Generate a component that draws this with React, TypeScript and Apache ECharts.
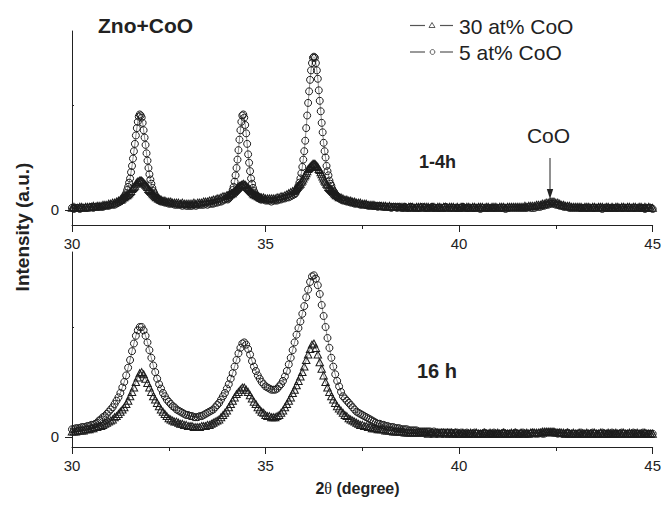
import React, { useEffect, useRef } from "react";
import * as echarts from "echarts";

const FONT = '"Liberation Sans", Arial, Helvetica, sans-serif';
const INK = "#222";

type Segment = [number, number, number[]];

// X-ray diffraction scans, 2θ in degrees. Each segment: [first angle, step, intensities].
// Upper panel: 1-4 h milling.
const top30AtPct: Segment[] = [
  [30.0, 0.05, [2, 3, 2, 2, 3, 3, 2, 3, 3, 3, 3, 4, 3, 4, 4, 4, 5, 5, 5, 6, 6, 7, 7, 8, 9, 10]],
  [31.275, 0.025, [10, 11, 12, 12, 13, 14, 14, 15, 16, 17, 18, 20, 21, 22, 23, 25, 26, 27, 27, 28, 28, 28, 27, 26, 25, 24, 23, 22, 20, 19, 18, 17, 16, 15, 14, 13, 12, 12, 11, 11, 10, 10]],
  [32.35, 0.05, [9, 9, 8, 8, 8, 7, 7, 7, 7, 6, 7, 6, 6, 6, 6, 6, 7, 6, 7, 7, 7, 8, 8, 8, 9, 9, 10, 10, 11, 11, 12, 13, 13, 14]],
  [34.025, 0.025, [14, 14, 15, 15, 16, 16, 17, 18, 19, 20, 21, 22, 23, 23, 24, 24, 25, 24, 24, 23, 22, 21, 20, 19, 18, 17, 16, 15, 15, 14, 14, 13, 13, 12, 12, 12]],
  [34.95, 0.05, [12, 11, 11, 11, 11, 11, 11, 12, 12, 13, 13, 14, 15, 16, 17, 18, 19]],
  [35.775, 0.025, [20, 21, 22, 23, 24, 25, 27, 28, 30, 32, 33, 35, 37, 39, 40, 41, 42, 43, 44, 44, 44, 43, 42, 41, 39, 38, 36, 34, 32, 30, 28, 27, 25, 24, 22, 21, 20, 19, 18, 17, 16, 15, 14, 14, 13, 12]],
  [36.95, 0.05, [
    12, 11, 10, 10, 9, 9, 8, 8, 7, 7,
    7, 6, 6, 6, 5, 5, 5, 5, 4, 4,
    4, 4, 4, 4, 3, 4, 3, 3, 3, 3,
    3, 3, 3, 3, 2, 3, 3, 3, 2, 3,
    3, 3, 2, 3, 3, 3, 2, 3, 3, 2,
    3, 3, 2, 3, 3, 2, 3, 3, 3, 2,
    3, 2, 3, 3, 2, 3, 3, 2, 3, 3,
    2, 3, 3, 3, 2, 3, 3, 2, 3, 3,
    3, 2, 3, 3, 3, 2, 3, 3, 3, 3,
    3, 3, 3, 3, 3, 4, 3, 4, 4, 4,
    4, 5, 5, 5, 6, 6, 7, 7, 8, 8,
    8, 7, 7, 6, 5, 5, 4, 4, 4, 3,
    3, 3, 3, 3, 3, 2, 3, 3, 3, 2,
    3, 3, 2, 3, 3, 3, 2, 3, 3, 2,
    3, 2, 3, 3, 2, 3, 3, 2, 3, 3,
    2, 3, 3, 2, 3, 3, 2, 3, 2, 3,
    2, 2,
  ]],
];

const top5AtPct: Segment[] = [
  [30.0, 0.05, [2, 1, 2, 2, 1, 2, 2, 2, 2, 2, 3, 2, 3, 3, 3, 3, 3, 4, 4, 4, 5, 5, 5, 6, 7, 8]],
  [31.275, 0.025, [9, 10, 11, 13, 14, 16, 19, 22, 26, 30, 36, 42, 49, 56, 63, 71, 78, 84, 89, 91, 90, 88, 83, 76, 69, 62, 54, 47, 40, 34, 29, 25, 21, 18, 16, 14, 12, 11, 10, 9, 9, 8]],
  [32.35, 0.05, [8, 7, 7, 6, 6, 6, 5, 5, 5, 5, 4, 5, 4, 4, 4, 4, 5, 4, 5, 5, 5, 5, 6, 5, 6, 6, 6, 7, 7, 8, 8, 9, 10, 11]],
  [34.025, 0.025, [10, 11, 12, 14, 16, 19, 22, 27, 33, 40, 48, 57, 67, 76, 84, 90, 91, 88, 81, 73, 63, 53, 45, 37, 30, 25, 21, 18, 16, 14, 13, 12, 11, 11, 10, 10]],
  [34.95, 0.05, [10, 9, 9, 9, 8, 9, 9, 9, 10, 10, 11, 11, 12, 12, 13, 14, 15]],
  [35.775, 0.025, [16, 18, 20, 23, 26, 30, 35, 41, 48, 56, 66, 78, 90, 102, 113, 124, 133, 140, 145, 146, 145, 140, 133, 125, 114, 104, 94, 83, 74, 64, 56, 50, 42, 37, 33, 28, 25, 23, 20, 18, 17, 15, 14, 13, 12, 11]],
  [36.95, 0.05, [
    10, 9, 9, 8, 8, 7, 7, 6, 6, 6,
    5, 5, 5, 5, 4, 4, 4, 4, 4, 3,
    4, 3, 3, 3, 3, 3, 2, 3, 3, 2,
    3, 2, 2, 3, 2, 2, 3, 2, 2, 2,
    2, 2, 3, 2, 2, 2, 2, 3, 2, 2,
    2, 2, 2, 2, 3, 2, 2, 2, 2, 2,
    2, 2, 2, 3, 2, 2, 2, 2, 2, 2,
    2, 2, 1, 2, 2, 2, 2, 2, 2, 2,
    2, 2, 2, 2, 2, 1, 2, 2, 2, 2,
    2, 2, 2, 2, 2, 2, 2, 3, 2, 2,
    2, 3, 3, 3, 4, 4, 5, 5, 6, 6,
    6, 5, 5, 4, 4, 3, 3, 3, 2, 2,
    2, 2, 2, 2, 2, 2, 2, 2, 2, 2,
    2, 2, 2, 2, 2, 1, 2, 2, 2, 2,
    2, 2, 2, 2, 2, 2, 2, 2, 2, 2,
    2, 2, 2, 2, 2, 2, 2, 1, 2, 2,
    2, 1,
  ]],
];

// Lower panel: 16 h milling.
const bottom30AtPct: Segment[] = [
  [30.0, 0.05, [5, 5, 5, 6, 6, 6, 6, 7, 7, 7, 8, 8, 9, 9, 10, 10, 11, 12, 13, 14, 15]],
  [31.05, 0.05, [16, 18, 19, 21, 23, 25, 27, 30, 33, 37, 41, 45, 50, 54, 58]],
  [31.8, 0.05, [59, 57, 53, 49, 45, 41, 37, 34, 31, 28, 25, 23, 21, 19, 17]],
  [32.55, 0.05, [16, 15, 14, 14, 13, 12, 12, 11, 11, 10, 10, 10, 9, 9, 9, 9, 10, 10, 10, 11]],
  [33.55, 0.05, [11, 12, 13, 14, 15, 16, 18, 20, 22, 24, 27, 30, 33, 36, 39, 41, 43, 45, 45]],
  [34.5, 0.05, [43, 41, 38, 35, 32, 30, 27, 25, 23, 22, 20, 19, 19, 18, 18]],
  [35.25, 0.05, [18, 19, 20, 22, 24, 27, 30, 33, 36, 40, 43, 47, 51, 55, 59, 64, 70, 75, 80, 84]],
  [36.25, 0.05, [85, 81, 75, 68, 62, 56, 50, 45, 41, 37, 34, 31, 28, 26, 24, 22]],
  [37.05, 0.05, [20, 19, 17, 16, 15, 14, 13, 12, 11, 11, 10, 10, 9, 9, 8, 8, 8, 7, 7, 7]],
  [38.05, 0.05, [7, 6, 6, 6, 6, 5, 5, 5, 5, 5, 5, 4, 4, 4, 4, 4, 4, 4, 4, 4]],
  [39.05, 0.05, [4, 4, 4, 3, 4, 4, 3, 4, 4, 3, 4, 4, 3, 4, 3, 4, 3, 4, 3, 3]],
  [40.05, 0.05, [
    3, 4, 3, 3, 3, 4, 3, 3, 4, 3, 3, 3, 4, 3, 3, 4, 3, 3, 3, 4,
    3, 3, 4, 3, 3, 3, 4, 3, 4, 3, 3, 4, 3, 3, 4, 3, 4, 4, 4, 4,
    4, 4, 5, 5, 5, 5, 5, 5, 5, 4, 4, 4, 4, 4, 3, 4, 3, 3, 4, 3,
    3, 4, 3, 3, 3, 4, 3, 3, 3, 4, 3, 3, 4, 3, 3, 3, 4, 3, 3, 3,
    4, 3, 3, 3, 4, 3, 3, 4, 3, 3, 3, 4, 3, 3, 3, 4, 3, 3, 3, 3,
  ]],
];

const bottom5AtPct: Segment[] = [
  [30.0, 0.05, [7, 7, 8, 8, 8, 9, 9, 9, 10, 10, 11, 11, 12, 13, 15, 16, 18, 19, 21, 23, 25]],
  [31.05, 0.05, [27, 30, 33, 36, 40, 45, 50, 56, 63, 70, 78, 85, 92, 97, 100]],
  [31.8, 0.05, [100, 97, 92, 86, 79, 72, 65, 59, 53, 48, 44, 40, 37, 34, 32]],
  [32.55, 0.05, [30, 28, 27, 25, 24, 23, 22, 21, 20, 20, 19, 19, 18, 18, 18, 19, 19, 20, 21, 22]],
  [33.55, 0.05, [23, 24, 25, 27, 29, 31, 34, 37, 40, 44, 48, 53, 58, 64, 70, 76, 81, 85, 86]],
  [34.5, 0.05, [84, 80, 75, 69, 64, 60, 56, 53, 50, 48, 46, 45, 44, 43, 43]],
  [35.25, 0.05, [43, 44, 46, 48, 51, 55, 60, 66, 72, 79, 86, 93, 99, 105, 112, 119, 127, 134, 141, 146]],
  [36.25, 0.05, [147, 144, 138, 130, 120, 110, 100, 90, 81, 72, 64, 57, 51, 46, 41, 37]],
  [37.05, 0.05, [35, 33, 31, 29, 27, 25, 23, 22, 21, 20, 19, 18, 17, 16, 15, 14, 13, 12, 12, 11]],
  [38.05, 0.05, [11, 10, 10, 9, 9, 9, 8, 8, 8, 7, 7, 7, 7, 6, 6, 6, 6, 6, 5, 5]],
  [39.05, 0.05, [5, 5, 5, 5, 5, 4, 5, 4, 4, 4, 4, 4, 4, 4, 4, 4, 3, 4, 4, 3]],
  [40.05, 0.05, [
    4, 3, 3, 4, 3, 3, 3, 4, 3, 3, 3, 3, 4, 3, 3, 3, 3, 4, 3, 3,
    3, 3, 4, 3, 3, 3, 3, 3, 4, 3, 3, 3, 4, 3, 3, 3, 3, 4, 3, 3,
    3, 4, 3, 3, 4, 4, 4, 4, 4, 4, 3, 4, 3, 3, 3, 4, 3, 3, 3, 3,
    3, 3, 4, 3, 3, 3, 3, 3, 4, 3, 3, 3, 3, 4, 3, 3, 3, 3, 4, 3,
    3, 3, 3, 4, 3, 3, 3, 3, 3, 4, 3, 3, 3, 3, 4, 3, 3, 3, 3, 3,
  ]],
];

const X_MIN = 30;
const X_MAX = 45;
const X_LABEL_STEP = 5;
const Y_LABELS = [0];
const Y_MINOR_TICK = [100];

const SERIES_NAMES = ["30 at% CoO", "5 at% CoO"];
const PANEL_NAMES = ["1-4h", "16 h"];

function toPoints(segments: Segment[]): [number, number][] {
  const pts: [number, number][] = [];
  for (const [start, step, values] of segments) {
    values.forEach((v, i) => pts.push([Math.round((start + i * step) * 1000) / 1000, v]));
  }
  return pts;
}

const xAxisFor = (gridIndex: number) => ({
  type: "value",
  gridIndex,
  min: X_MIN,
  max: X_MAX,
  interval: X_LABEL_STEP,
  axisLine: { show: true, onZero: false, lineStyle: { color: INK, width: 1 } },
  axisTick: { show: true, length: 7, lineStyle: { color: INK, width: 1 } },
  minorTick: { show: true, splitNumber: 2, length: 4, lineStyle: { color: INK, width: 1 } },
  axisLabel: { color: INK, fontSize: 15, fontFamily: FONT, margin: 11 },
  splitLine: { show: false },
  minorSplitLine: { show: false },
});

const yAxisFor = (gridIndex: number, min: number, max: number) => ({
  type: "value",
  gridIndex,
  min,
  max,
  axisLine: { show: true, onZero: false, lineStyle: { color: INK, width: 1 } },
  axisTick: { show: true, length: 7, customValues: Y_LABELS, lineStyle: { color: INK, width: 1 } },
  axisLabel: { customValues: Y_LABELS, color: INK, fontSize: 15, fontFamily: FONT, margin: 13 },
  splitLine: { show: false },
});

const yTickAxisFor = (gridIndex: number, min: number, max: number) => ({
  type: "value",
  gridIndex,
  min,
  max,
  position: "left",
  axisLine: { show: false },
  axisTick: { show: true, inside: true, length: 2, customValues: Y_MINOR_TICK, lineStyle: { color: INK, width: 1 } },
  axisLabel: { show: false },
  splitLine: { show: false },
});

const MARK_STYLE = { color: "rgba(255,255,255,0)", borderColor: "#1c1c1c", borderWidth: 1 };
const LINK_STYLE = { color: "#444", width: 0.6 };

const triangleSeries = (data: Segment[], xi: number, yi: number) => ({
  type: "line",
  name: SERIES_NAMES[0],
  xAxisIndex: xi,
  yAxisIndex: yi,
  data: toPoints(data),
  symbol: "triangle",
  symbolSize: [7.5, 7],
  showAllSymbol: true,
  itemStyle: MARK_STYLE,
  lineStyle: LINK_STYLE,
  emphasis: { disabled: true },
  silent: true,
});

const circleSeries = (data: Segment[], xi: number, yi: number) => ({
  type: "line",
  name: SERIES_NAMES[1],
  xAxisIndex: xi,
  yAxisIndex: yi,
  data: toPoints(data),
  symbol: "circle",
  symbolSize: 7,
  showAllSymbol: true,
  itemStyle: MARK_STYLE,
  lineStyle: LINK_STYLE,
  emphasis: { disabled: true },
  silent: true,
});

const legendRow = (y: number, marker: any, label: string) => [
  { type: "line", shape: { x1: 410, y1: y, x2: 425, y2: y }, style: { stroke: "#555", lineWidth: 1.2 } },
  marker,
  { type: "line", shape: { x1: 440, y1: y, x2: 453, y2: y }, style: { stroke: "#555", lineWidth: 1.2 } },
  {
    type: "text",
    x: 459,
    y: y + 0.5,
    style: { text: label, font: `21px ${FONT}`, fill: INK, verticalAlign: "middle", align: "left" },
  },
];

export default function App() {
  const ref = useRef<HTMLDivElement>(null);

  useEffect(() => {
    if (!ref.current) return;
    const chart = echarts.init(ref.current, null, { renderer: "svg" });
    chart.setOption({
      animation: false,
      backgroundColor: "#fff",
      grid: [
        { left: 72, top: 31, width: 581, height: 194 },
        { left: 72, top: 252, width: 581, height: 195 },
      ],
      xAxis: [xAxisFor(0), xAxisFor(1)],
      yAxis: [
        yAxisFor(0, -14.3, 170.5),
        yAxisFor(1, -9.1, 168.2),
        yTickAxisFor(0, -14.3, 170.5),
        yTickAxisFor(1, -9.1, 168.2),
      ],
      series: [
        triangleSeries(top30AtPct, 0, 0),
        circleSeries(top5AtPct, 0, 0),
        triangleSeries(bottom30AtPct, 1, 1),
        circleSeries(bottom5AtPct, 1, 1),
      ],
      graphic: [
        {
          type: "text",
          x: 98,
          y: 25.5,
          style: { text: "Zno+CoO", font: `bold 21px ${FONT}`, fill: INK, verticalAlign: "middle" },
        },
        ...legendRow(25.5, {
          type: "polygon",
          shape: { points: [[432, 22.5], [435, 27.5], [429, 27.5]] },
          style: { fill: "none", stroke: "#333", lineWidth: 0.8 },
        }, SERIES_NAMES[0]),
        ...legendRow(52, {
          type: "circle",
          shape: { cx: 432.5, cy: 52, r: 2.4 },
          style: { fill: "none", stroke: "#333", lineWidth: 0.8 },
        }, SERIES_NAMES[1]),
        {
          type: "text",
          x: 548.5,
          y: 135,
          style: { text: "CoO", font: `21px ${FONT}`, fill: INK, align: "center", verticalAlign: "middle" },
        },
        { type: "line", shape: { x1: 550, y1: 158, x2: 550, y2: 192 }, style: { stroke: INK, lineWidth: 1 } },
        {
          type: "polygon",
          shape: { points: [[546.8, 189], [553.2, 189], [550, 199]] },
          style: { fill: INK },
        },
        {
          type: "text",
          x: 419,
          y: 162,
          style: { text: PANEL_NAMES[0], font: `bold 18px ${FONT}`, fill: INK, verticalAlign: "middle" },
        },
        {
          type: "text",
          x: 417,
          y: 371,
          style: { text: PANEL_NAMES[1], font: `bold 20px ${FONT}`, fill: INK, verticalAlign: "middle" },
        },
        {
          type: "text",
          x: 22.5,
          y: 227,
          rotation: Math.PI / 2,
          style: {
            text: "Intensity (a.u.)",
            font: `bold 19px ${FONT}`,
            fill: INK,
            align: "center",
            verticalAlign: "middle",
          },
        },
        {
          type: "text",
          x: 357.5,
          y: 488,
          style: {
            text: "{b|2}{t|θ}{b| (degree)}",
            align: "center",
            verticalAlign: "middle",
            rich: {
              b: { font: `bold 16px ${FONT}`, fill: INK },
              t: { font: `16px "Liberation Serif", serif`, fill: INK },
            },
          },
        },
      ],
    });
    return () => chart.dispose();
  }, []);

  return (
    <div
      ref={ref}
      style={{ position: "fixed", left: 0, top: 0, width: 664, height: 507, background: "#fff" }}
    />
  );
}
